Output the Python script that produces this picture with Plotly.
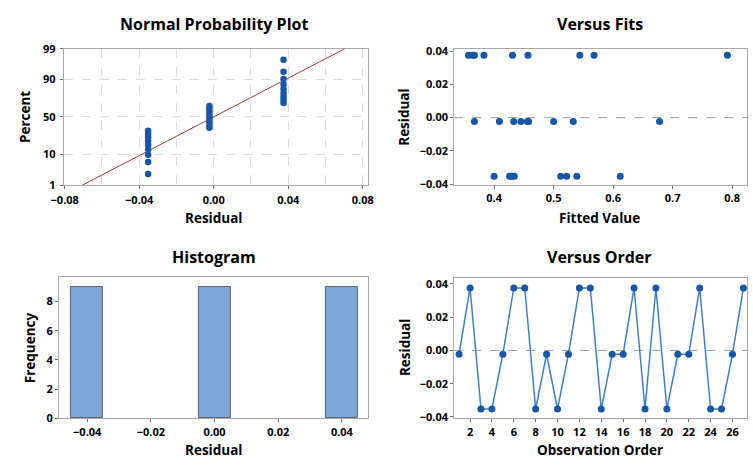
import numpy as np
import plotly.graph_objects as go
from statistics import NormalDist

# ---------------- data ----------------
obs_order = list(range(1, 28))
residuals = [-0.0023, 0.0375, -0.0352, -0.0352, -0.0023, 0.0375, 0.0375, -0.0352, -0.0023,
             -0.0352, -0.0023, 0.0375, 0.0375, -0.0352, -0.0023, -0.0023, 0.0375, -0.0352,
             0.0375, -0.0352, -0.0023, -0.0023, 0.0375, -0.0352, -0.0352, -0.0023, 0.0375]
fits_pos = [0.357, 0.364, 0.367, 0.383, 0.431, 0.457, 0.544, 0.568, 0.792]
fits_zero = [0.367, 0.409, 0.433, 0.445, 0.456, 0.458, 0.500, 0.533, 0.678]
fits_neg = [0.400, 0.426, 0.429, 0.430, 0.434, 0.512, 0.522, 0.539, 0.612]
resid_pos, resid_zero, resid_neg = 0.0375, -0.0023, -0.0352
pct_ticks = [1, 10, 50, 90, 99]

nd = NormalDist()
fits = fits_pos + fits_zero + fits_neg
fit_res = [resid_pos] * len(fits_pos) + [resid_zero] * len(fits_zero) + [resid_neg] * len(fits_neg)

# normal probability plotting positions (median ranks)
n = len(residuals)
sorted_res = sorted(residuals)
pp = [(i - 0.3) / (n + 0.4) for i in range(1, n + 1)]
pz = [nd.inv_cdf(p) for p in pp]
mu = float(np.mean(residuals))
sd = float(np.std(residuals, ddof=1))
zl = np.linspace(nd.inv_cdf(0.01), nd.inv_cdf(0.99), 50)
xl = mu + sd * zl

BLUE = '#1656A8'
FONT = 'Open Sans'
W, H = 753, 465

def dom_x(a, b):
    return [a / W, b / W]

def dom_y(top, bot):
    return [1 - bot / H, 1 - top / H]

fig = go.Figure()

# Normal probability plot
fig.add_trace(go.Scatter(x=xl, y=zl, mode='lines', line=dict(color='#B0393B', width=1),
                         xaxis='x', yaxis='y', showlegend=False))
fig.add_trace(go.Scatter(x=sorted_res, y=pz, mode='markers', marker=dict(color=BLUE, size=6.5),
                         xaxis='x', yaxis='y', showlegend=False))

# Versus fits
fig.add_trace(go.Scatter(x=fits, y=fit_res, mode='markers', marker=dict(color=BLUE, size=7),
                         xaxis='x2', yaxis='y2', showlegend=False))

# Histogram
fig.add_trace(go.Histogram(x=residuals, xbins=dict(start=-0.045, end=0.045, size=0.01),
                           marker=dict(color='#7BA6D8', line=dict(color='#5A6470', width=1)),
                           xaxis='x3', yaxis='y3', showlegend=False))

# Versus order
fig.add_trace(go.Scatter(x=obs_order, y=residuals, mode='lines+markers',
                         line=dict(color='#3F7FC8', width=1.5),
                         marker=dict(color=BLUE, size=7),
                         xaxis='x4', yaxis='y4', showlegend=False))

tickfont = dict(family=FONT, size=11, color='black', weight='bold')
axcommon = dict(showline=True, linecolor='#A8A8A8', linewidth=1, mirror=True,
                ticks='outside', ticklen=3, tickcolor='#707070', tickfont=tickfont,
                zeroline=False)

fig.update_layout(
    width=W, height=H, margin=dict(l=0, r=0, t=0, b=0),
    plot_bgcolor='white', paper_bgcolor='white', bargap=0,
    xaxis=dict(domain=dom_x(52, 364), anchor='y', range=[-0.0805, 0.083],
               tickvals=[-0.08, -0.04, 0.0, 0.04, 0.08], tickformat='.2f',
               ticklabelstandoff=2,
               showgrid=True, gridcolor='#DCDCDC', griddash='dash',
               minor=dict(tickvals=[-0.06, -0.02, 0.02, 0.06], showgrid=True,
                          gridcolor='#DCDCDC', griddash='dash', ticks=''),
               **axcommon),
    yaxis=dict(domain=dom_y(42, 183), anchor='x', range=[nd.inv_cdf(0.01), nd.inv_cdf(0.99)],
               tickvals=[nd.inv_cdf(p / 100) for p in pct_ticks], ticktext=[str(p) for p in pct_ticks],
               ticklabelstandoff=2,
               showgrid=True, gridcolor='#DCDCDC', griddash='dash',
               **axcommon),
    xaxis2=dict(domain=dom_x(452, 752), anchor='y2', range=[0.333, 0.825], showgrid=False,
                tickvals=[0.4, 0.5, 0.6, 0.7, 0.8], tickformat='.1f', **axcommon),
    yaxis2=dict(domain=dom_y(42, 183), anchor='x2', range=[-0.0406, 0.0415], showgrid=False,
                tickvals=[-0.04, -0.02, 0.0, 0.02, 0.04], tickformat='.2f', **axcommon),
    xaxis3=dict(domain=dom_x(47, 364), anchor='y3', range=[-0.0489, 0.0483], showgrid=False,
                tickvals=[-0.04, -0.02, 0.0, 0.02, 0.04], tickformat='.2f', **axcommon),
    yaxis3=dict(domain=dom_y(278, 424), anchor='x3', range=[0, 9.67], showgrid=False,
                tickvals=[0, 2, 4, 6, 8], **axcommon),
    xaxis4=dict(domain=dom_x(452, 752), anchor='y4', range=[0.55, 27.33], showgrid=False,
                tickvals=list(range(2, 27, 2)), **axcommon),
    yaxis4=dict(domain=dom_y(279, 424), anchor='x4', range=[-0.0408, 0.0435], showgrid=False,
                tickvals=[-0.04, -0.02, 0.0, 0.02, 0.04], tickformat='.2f', **axcommon),
)

# zero reference lines
for xr, yr in [('x2', 'y2'), ('x4', 'y4')]:
    fig.add_shape(type='line', xref=f'{xr} domain', yref=yr, x0=0, x1=1, y0=0, y1=0,
                  line=dict(color='#9A9A9A', width=1, dash='dash'), layer='below')

def ann(text, x, y, size, angle=0):
    fig.add_annotation(text=text, x=x / W, y=1 - y / H, xref='paper', yref='paper',
                       showarrow=False, textangle=angle, xanchor='center', yanchor='middle',
                       font=dict(family=FONT, size=size, color='black', weight='bold'))

# panel titles
ann('Normal Probability Plot', 206, 17, 16)
ann('Versus Fits', 601, 17, 16)
ann('Histogram', 206, 257, 16)
ann('Versus Order', 601, 257, 16)
# axis titles
ann('Residual', 205, 217, 13.5)
ann('Fitted Value', 601, 217, 13.5)
ann('Residual', 205, 457, 13.5)
ann('Observation Order', 601, 457, 13.5)
ann('Percent', 13, 113, 13.5, -90)
ann('Residual', 401, 113, 13.5, -90)
ann('Frequency', 17, 351, 13.5, -90)
ann('Residual', 401, 351, 13.5, -90)

fig.write_html('out.html')
